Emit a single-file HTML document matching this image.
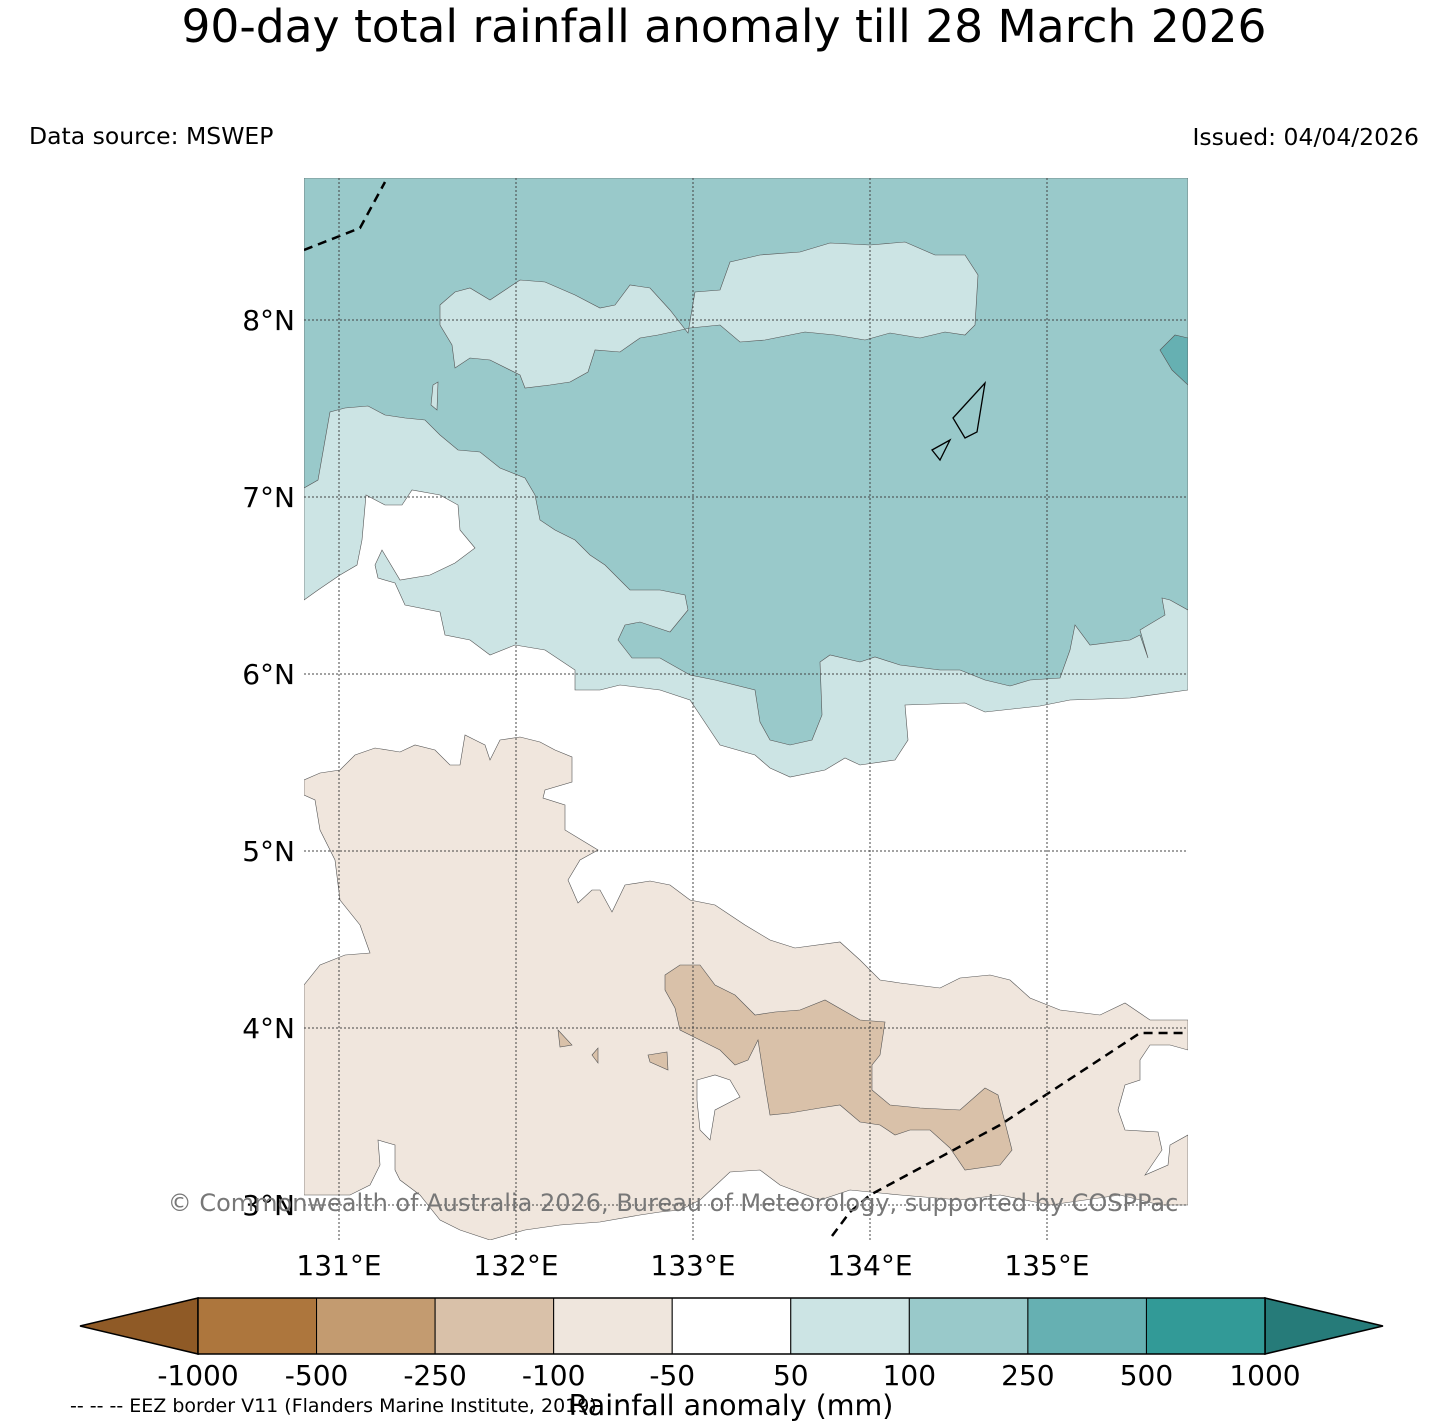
<!DOCTYPE html>
<html><head><meta charset="utf-8">
<style>
body{margin:0;background:#fff;font-family:"DejaVu Sans","Liberation Sans",sans-serif;}
svg{display:block}
</style></head>
<body>
<svg id="chart" width="1449" height="1426" viewBox="0 0 1449 1426" xmlns="http://www.w3.org/2000/svg" font-family="DejaVu Sans, Liberation Sans, sans-serif">
<text x="724" y="42" font-size="45.5" text-anchor="middle">90-day total rainfall anomaly till 28 March 2026</text>
<text x="29" y="144" font-size="23.5">Data source: MSWEP</text>
<text x="1419" y="145" font-size="23.5" text-anchor="end">Issued: 04/04/2026</text>
<defs><clipPath id="mapclip"><rect x="304" y="178" width="884" height="1062"/></clipPath></defs>
<g id="map" clip-path="url(#mapclip)"></g>
<g id="axes"></g>
<text x="673" y="1211" font-size="24" fill="#777" text-anchor="middle">© Commonwealth of Australia 2026, Bureau of Meteorology, supported by COSPPac</text>
<g id="cbar"></g>
<text x="731" y="1415" font-size="28.5" text-anchor="middle">Rainfall anomaly (mm)</text>
<text x="70" y="1412" font-size="19">-- -- -- EEZ border V11 (Flanders Marine Institute, 2019)</text>
</svg>
<script>
const lonTicks=[131,132,133,134,135];
const latTicks=[8,7,6,5,4,3];
const levels=["-1000","-500","-250","-100","-50","50","100","250","500","1000"];
const levelColors=["#ad763d","#c39b70","#d9c1a9","#efe6dd","#ffffff","#cce4e4","#99c9ca","#66b0b2","#329a97"];
// contour geometry in map pixel units (x,y)
const lightTeal=[[304,178],[1188,178],[1188,690],[1130,698],[1070,700],[1040,706],[985,712],[965,703],[905,705],[908,740],[895,760],[860,765],[845,758],[825,770],[790,777],[770,768],[755,755],[720,745],[700,715],[690,700],[660,690],[620,685],[600,690],[575,690],[575,670],[545,650],[515,645],[490,655],[470,640],[445,635],[440,612],[405,605],[395,583],[378,578],[375,565],[382,550],[400,580],[430,575],[455,563],[475,548],[460,530],[458,505],[440,495],[412,490],[402,505],[385,505],[366,495],[362,540],[357,565],[340,575],[318,590],[304,600]];
const blue=[[304,178],[1188,178],[1188,610],[1170,600],[1162,598],[1165,615],[1140,630],[1148,658],[1140,635],[1130,640],[1090,645],[1075,625],[1070,650],[1060,678],[1030,680],[1010,686],[985,680],[960,670],[940,670],[900,665],[875,657],[860,662],[830,655],[820,662],[822,715],[812,740],[790,745],[770,740],[760,722],[755,690],[715,680],[690,675],[660,658],[632,658],[618,640],[625,625],[640,622],[670,632],[688,610],[685,595],[660,590],[630,590],[625,585],[605,565],[590,555],[575,540],[555,530],[540,520],[535,495],[525,478],[500,468],[480,452],[458,450],[440,435],[425,420],[405,418],[385,415],[368,406],[345,408],[330,412],[318,480],[304,488]];
const topPatch=[[440,305],[455,292],[470,288],[490,300],[520,280],[545,282],[575,295],[600,308],[615,305],[630,285],[650,288],[670,310],[688,333],[695,292],[720,290],[730,262],[760,255],[800,252],[830,243],[870,245],[905,242],[935,255],[965,255],[978,275],[975,325],[965,335],[945,332],[920,338],[890,333],[865,340],[835,335],[805,332],[765,340],[740,342],[720,325],[690,328],[658,335],[640,338],[620,352],[595,350],[588,372],[570,382],[550,385],[525,388],[520,375],[490,360],[470,358],[455,368],[452,345],[440,325]];
const sliver=[[433,385],[438,382],[437,410],[431,405]];
const tealPatch=[[1160,350],[1175,335],[1188,338],[1188,385],[1172,370]];
const tan=[[304,780],[320,773],[340,770],[355,755],[375,748],[400,752],[415,745],[435,750],[450,765],[460,765],[465,735],[475,740],[485,745],[490,760],[500,740],[520,737],[540,742],[555,750],[572,757],[572,782],[545,790],[543,798],[565,805],[565,830],[598,850],[580,860],[568,880],[578,903],[592,890],[600,890],[612,912],[625,885],[650,881],[670,885],[690,900],[715,905],[745,925],[770,940],[795,948],[840,942],[860,960],[880,980],[900,983],[940,988],[960,978],[990,975],[1010,980],[1030,998],[1060,1010],[1100,1015],[1125,1003],[1150,1020],[1188,1020],[1188,1050],[1170,1045],[1150,1045],[1140,1060],[1140,1080],[1125,1085],[1118,1110],[1125,1130],[1158,1132],[1162,1150],[1145,1175],[1168,1165],[1170,1145],[1188,1135],[1188,1205],[1160,1205],[1120,1195],[1050,1205],[1000,1195],[960,1200],[900,1195],[850,1190],[820,1200],[780,1185],[760,1170],[730,1172],[700,1200],[680,1210],[660,1212],[640,1215],[600,1222],[560,1225],[525,1230],[490,1240],[460,1230],[440,1220],[420,1195],[400,1180],[395,1170],[395,1145],[378,1140],[380,1165],[370,1185],[350,1195],[304,1195],[304,985],[320,965],[345,955],[370,953],[360,925],[340,900],[335,860],[320,830],[315,800],[304,795]];
const hole=[[697,1080],[715,1075],[730,1080],[740,1097],[715,1110],[710,1140],[700,1130],[697,1100]];
const darkTan=[[665,975],[680,965],[700,965],[715,985],[735,995],[755,1015],[775,1012],[800,1010],[825,1000],[860,1020],[885,1022],[880,1055],[872,1065],[872,1090],[890,1105],[920,1108],[960,1110],[985,1088],[998,1095],[1012,1150],[1000,1165],[965,1170],[950,1148],[930,1130],[910,1130],[895,1135],[880,1125],[860,1122],[840,1105],[820,1108],[790,1113],[770,1115],[765,1085],[758,1040],[748,1060],[735,1065],[720,1050],[700,1040],[680,1030],[675,1008],[665,990]];
const dt2=[[558,1030],[572,1045],[560,1047]];
const dt3=[[592,1055],[598,1048],[598,1063]];
const dt4=[[648,1055],[667,1052],[668,1070],[650,1062]];
const eez1=[[304,250],[360,228],[385,182]];
const eez2=[[832,1236],[850,1212],[870,1195],[1000,1125],[1140,1033],[1188,1033]];
const island1=[[953,418],[985,383],[977,432],[965,438]];
const island2=[[932,450],[950,440],[940,460]];

const NS="http://www.w3.org/2000/svg";
function lonX(l){return 339+(l-131)*177;}
function latY(l){return 320-(l-8)*177;}
function pts(a){return a.map(p=>p[0]+","+p[1]).join(" ");}
function poly(parent,arr,fill,name,stroke,sw){
  const p=document.createElementNS(NS,"polygon");
  p.setAttribute("points",pts(arr));
  p.setAttribute("fill",fill);
  p.setAttribute("stroke",stroke||"#555");
  p.setAttribute("stroke-width",sw||0.6);
  
  
  parent.appendChild(p);return p;
}
const map=document.getElementById("map");
poly(map,lightTeal,"#cce4e4","contour-50-100");
poly(map,blue,"#99c9ca","contour-100-250");
poly(map,topPatch,"#cce4e4","contour-50-100-north");
poly(map,sliver,"#cce4e4","contour-sliver");
poly(map,tealPatch,"#66b0b2","contour-250-500");
poly(map,tan,"#f0e6dd","contour-minus50-minus100");
poly(map,hole,"#ffffff","contour-hole");
[darkTan,dt2,dt3,dt4].forEach((a,i)=>poly(map,a,"#d9c1a9","contour-minus100-minus250"));
[island1,island2].forEach(a=>poly(map,a,"none","island-outline","#000",1.3));
[eez1,eez2].forEach(a=>{
  const l=document.createElementNS(NS,"polyline");
  l.setAttribute("points",pts(a));l.setAttribute("fill","none");
  l.setAttribute("stroke","#000");l.setAttribute("stroke-width",2.5);l.setAttribute("stroke-dasharray","9,6");
  
  
  map.appendChild(l);
});
const axes=document.getElementById("axes");
lonTicks.forEach(l=>{
  const x=lonX(l);
  const g=document.createElementNS(NS,"line");
  g.setAttribute("x1",x);g.setAttribute("x2",x);g.setAttribute("y1",178);g.setAttribute("y2",1240);
  g.setAttribute("stroke","#444");g.setAttribute("stroke-dasharray","2,2");g.setAttribute("stroke-width",1);
  
  
  axes.appendChild(g);
  const t=document.createElementNS(NS,"text");
  t.setAttribute("x",x);t.setAttribute("y",1275);t.setAttribute("font-size",28);t.setAttribute("text-anchor","middle");
  t.textContent=l+"°E";
  
  
  axes.appendChild(t);
});
latTicks.forEach(l=>{
  const y=latY(l);
  const g=document.createElementNS(NS,"line");
  g.setAttribute("x1",304);g.setAttribute("x2",1188);g.setAttribute("y1",y);g.setAttribute("y2",y);
  g.setAttribute("stroke","#444");g.setAttribute("stroke-dasharray","2,2");g.setAttribute("stroke-width",1);
  
  
  axes.appendChild(g);
  const t=document.createElementNS(NS,"text");
  t.setAttribute("x",295);t.setAttribute("y",y+10);t.setAttribute("font-size",28);t.setAttribute("text-anchor","end");
  t.textContent=l+"°N";
  
  
  axes.appendChild(t);
});
const cb=document.getElementById("cbar");
const x0=198,x1=1265,y0=1298,y1=1354,w=(x1-x0)/levelColors.length;
poly(cb,[[x0,y0],[80,(y0+y1)/2],[x0,y1]],"#8f5a26","colorbar-extend-low","#000",1.5);
poly(cb,[[x1,y0],[1383,(y0+y1)/2],[x1,y1]],"#267b79","colorbar-extend-high","#000",1.5);
levelColors.forEach((c,i)=>{
  const r=document.createElementNS(NS,"rect");
  r.setAttribute("x",x0+i*w);r.setAttribute("y",y0);r.setAttribute("width",w);r.setAttribute("height",y1-y0);
  r.setAttribute("fill",c);r.setAttribute("stroke","#000");r.setAttribute("stroke-width",1);
  
  
  cb.appendChild(r);
});
levels.forEach((v,i)=>{
  const t=document.createElementNS(NS,"text");
  t.setAttribute("x",x0+i*w);t.setAttribute("y",1385);t.setAttribute("font-size",28);t.setAttribute("text-anchor","middle");
  t.textContent=v;
  
  
  cb.appendChild(t);
});
const out=document.createElementNS(NS,"rect");
out.setAttribute("x",x0);out.setAttribute("y",y0);out.setAttribute("width",x1-x0);out.setAttribute("height",y1-y0);
out.setAttribute("fill","none");out.setAttribute("stroke","#000");out.setAttribute("stroke-width",1.5);


cb.appendChild(out);
</script>
</body></html>
